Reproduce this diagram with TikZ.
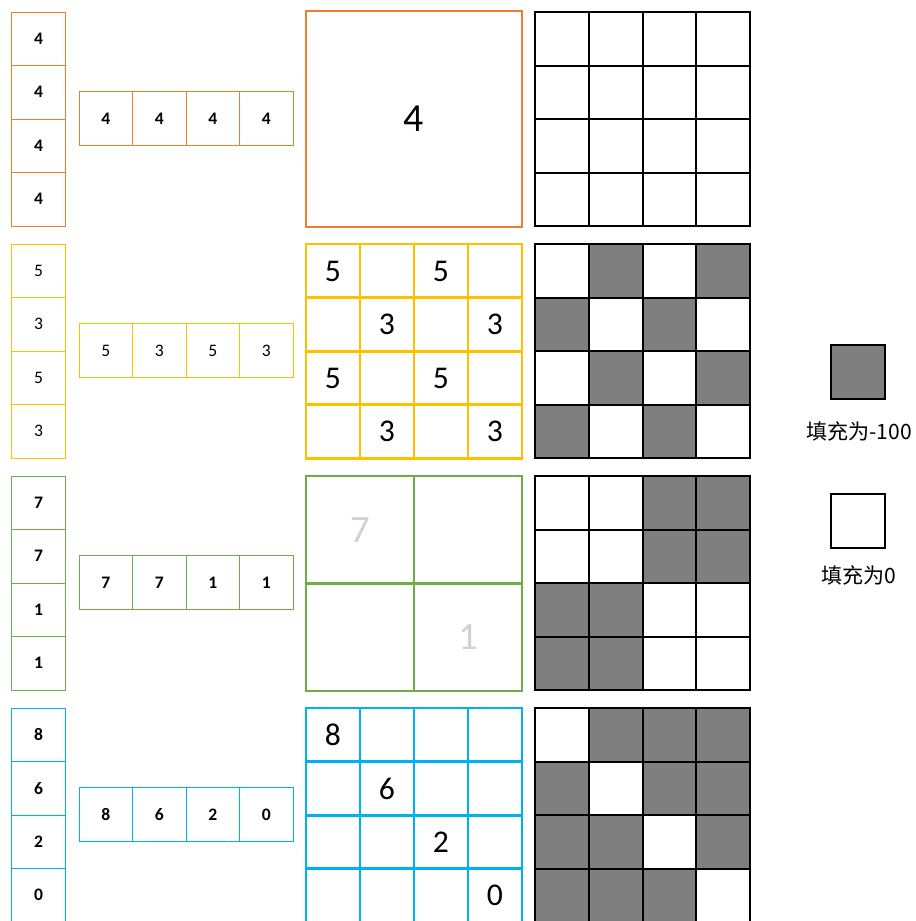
\documentclass[tikz,border=0pt]{standalone}
\usepackage{fontspec}
\setmainfont{Carlito}
\newfontfamily\cjkfont{Noto Sans CJK SC}

\definecolor{lorange}{HTML}{ED7D31}
\definecolor{lyellow}{HTML}{FFC000}
\definecolor{lgreen}{HTML}{70AD47}
\definecolor{lblue}{HTML}{00B0F0}
\definecolor{cellgray}{HTML}{7F7F7F}

\begin{document}
\begin{tikzpicture}[x=0.03cm,y=-0.03cm]
    \tikzset{
        vcell/.style={
            draw,
            line width=0.8pt,
            minimum size=1.605cm,
            inner sep=0pt,
            font=\fontsize{15}{15}\selectfont\bfseries
        },
        bigcell/.style={
            draw,
            line width=2.5pt,
            minimum size=1.62cm,
            inner sep=0pt,
            font=\fontsize{27}{27}\selectfont
        },
        bincell/.style={
            draw=black,
            line width=1.6pt,
            minimum size=1.61cm,
            inner sep=0pt
        },
        b0/.style={fill=white},
        b1/.style={fill=cellgray},
        legend/.style={font=\cjkfont\fontsize{18}{18}\selectfont}
    }
    \useasboundingbox (0,0) rectangle (915,921);

    % orange block
    \foreach \v [count=\i from 0] in {4,4,4,4} {
        \node[vcell,draw=lorange] (col1-\i) at (38.5,38.75+53.5*\i) {\v};
        \node[vcell,draw=lorange] (row1-\i) at (105.75+53.5*\i,118.5) {\v};
    }
    \node[bigcell,draw=lorange,minimum size=6.48cm,
        font=\fontsize{34}{34}\selectfont] (big1) at (414,119) {4};
    \foreach \f [count=\k from 0] in {0,0,0,0, 0,0,0,0, 0,0,0,0, 0,0,0,0} {
        \pgfmathtruncatemacro\r{int(\k/4)}
        \pgfmathtruncatemacro\c{mod(\k,4)}
        \node[bincell,b\f] (bin1-\k) at (562+53.75*\c,39+53.5*\r) {};
    }

    % yellow block
    \foreach \v [count=\i from 0] in {5,3,5,3} {
        \node[vcell,draw=lyellow,font=\fontsize{15}{15}\selectfont] (col2-\i) at (38.5,270.75+53.5*\i) {\v};
        \node[vcell,draw=lyellow,font=\fontsize{15}{15}\selectfont] (row2-\i) at (105.75+53.5*\i,350.5) {\v};
    }
    \foreach \v [count=\k from 0] in {5,{},5,{}, {},3,{},3, 5,{},5,{}, {},3,{},3} {
        \pgfmathtruncatemacro\r{int(\k/4)}
        \pgfmathtruncatemacro\c{mod(\k,4)}
        \node[bigcell,draw=lyellow] (big2-\k) at (333+54*\c,271+53.5*\r) {\v};
    }
    \foreach \f [count=\k from 0] in {0,1,0,1, 1,0,1,0, 0,1,0,1, 1,0,1,0} {
        \pgfmathtruncatemacro\r{int(\k/4)}
        \pgfmathtruncatemacro\c{mod(\k,4)}
        \node[bincell,b\f] (bin2-\k) at (562+53.75*\c,271+53.5*\r) {};
    }

    % green block
    \foreach \v [count=\i from 0] in {7,7,1,1} {
        \node[vcell,draw=lgreen] (col3-\i) at (38.5,502.75+53.5*\i) {\v};
        \node[vcell,draw=lgreen] (row3-\i) at (105.75+53.5*\i,582.5) {\v};
    }
    \foreach \v [count=\k from 0] in {7,{},{},1} {
        \pgfmathtruncatemacro\r{int(\k/2)}
        \pgfmathtruncatemacro\c{mod(\k,2)}
        \node[bigcell,draw=lgreen,minimum size=3.24cm,text=black!18,
            font=\fontsize{33}{33}\selectfont] (big3-\k) at (360+108*\c,530+107*\r) {\v};
    }
    \foreach \f [count=\k from 0] in {0,0,1,1, 0,0,1,1, 1,1,0,0, 1,1,0,0} {
        \pgfmathtruncatemacro\r{int(\k/4)}
        \pgfmathtruncatemacro\c{mod(\k,4)}
        \node[bincell,b\f] (bin3-\k) at (562+53.75*\c,503+53.5*\r) {};
    }

    % blue block
    \foreach \v [count=\i from 0] in {8,6,2,0} {
        \node[vcell,draw=lblue] (col4-\i) at (38.5,734.75+53.5*\i) {\v};
        \node[vcell,draw=lblue] (row4-\i) at (105.75+53.5*\i,814.5) {\v};
    }
    \foreach \v [count=\k from 0] in {8,{},{},{}, {},6,{},{}, {},{},2,{}, {},{},{},0} {
        \pgfmathtruncatemacro\r{int(\k/4)}
        \pgfmathtruncatemacro\c{mod(\k,4)}
        \node[bigcell,draw=lblue] (big4-\k) at (333+54*\c,735+53.5*\r) {\v};
    }
    \foreach \f [count=\k from 0] in {0,1,1,1, 1,0,1,1, 1,1,0,1, 1,1,1,0} {
        \pgfmathtruncatemacro\r{int(\k/4)}
        \pgfmathtruncatemacro\c{mod(\k,4)}
        \node[bincell,b\f] (bin4-\k) at (562+53.75*\c,735+53.5*\r) {};
    }

    % legend
    \node[bincell,b1] (keyfull) at (858,372) {};
    \node[legend] (keyfulltext) at (859,431) {填充为-100};
    \node[bincell,b0] (keyempty) at (858,521) {};
    \node[legend] (keyemptytext) at (859,575) {填充为0};
\end{tikzpicture}
\end{document}
